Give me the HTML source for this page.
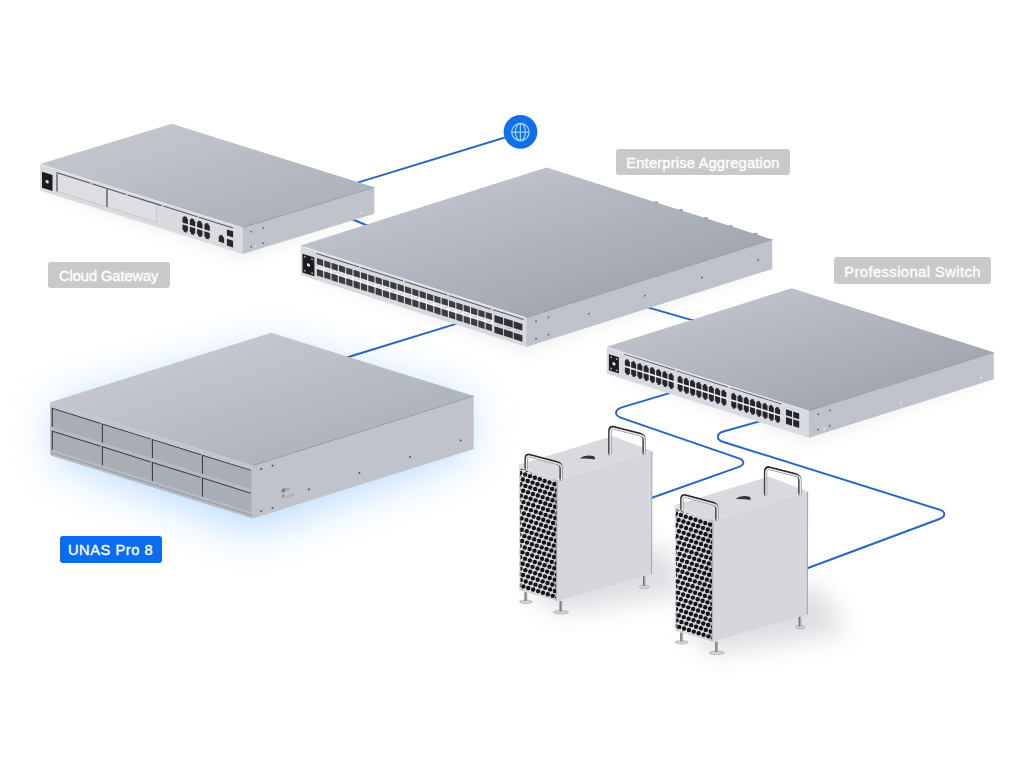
<!DOCTYPE html>
<html><head><meta charset="utf-8"><title>Network</title>
<style>
html,body{margin:0;padding:0;background:#fff;width:1024px;height:768px;overflow:hidden;}
#wrap{position:relative;width:1024px;height:768px;}
svg{position:absolute;left:0;top:0;}
.lbl{position:absolute;box-sizing:border-box;border-radius:3px;color:#fff;font-family:"Liberation Sans",sans-serif;font-size:14.7px;display:flex;align-items:center;justify-content:center;white-space:nowrap;-webkit-text-stroke:0.35px #fff;}
.grey{background:#c9c9cb;padding-top:2px;}
.blue{background:#0b6cf0;}
</style></head><body><div id="wrap">
<svg width="1024" height="768" viewBox="0 0 1024 768"><defs><filter id="blur8" x="-50%" y="-50%" width="200%" height="200%"><feGaussianBlur stdDeviation="8"/></filter><filter id="blur12" x="-50%" y="-50%" width="200%" height="200%"><feGaussianBlur stdDeviation="12"/></filter><filter id="blur4" x="-50%" y="-50%" width="200%" height="200%"><feGaussianBlur stdDeviation="4"/></filter><filter id="blur20" x="-60%" y="-60%" width="220%" height="220%"><feGaussianBlur stdDeviation="22"/></filter><linearGradient id="tg4" gradientUnits="userSpaceOnUse" x1="40.0" y1="164.0" x2="75.0" y2="278.6"><stop offset="0" stop-color="#c2c5cc"/><stop offset="1" stop-color="#aeb2bb"/></linearGradient><linearGradient id="tg5" gradientUnits="userSpaceOnUse" x1="300.6" y1="245.6" x2="342.0" y2="376.0"><stop offset="0" stop-color="#bcc0ca"/><stop offset="1" stop-color="#a3a7b1"/></linearGradient><linearGradient id="tg6" gradientUnits="userSpaceOnUse" x1="50.1" y1="402.3" x2="86.4" y2="517.8"><stop offset="0" stop-color="#c4c6cd"/><stop offset="1" stop-color="#b0b4bd"/></linearGradient><linearGradient id="tg7" gradientUnits="userSpaceOnUse" x1="606.8" y1="346.7" x2="643.6" y2="463.1"><stop offset="0" stop-color="#bdc0c9"/><stop offset="1" stop-color="#a3a7b1"/></linearGradient><clipPath id="gclip"><polygon points="520.20,468.50 556.50,482.50 556.00,599.50 520.50,589.00"/></clipPath><linearGradient id="grilleShade" x1="0" y1="0" x2="1" y2="0"><stop offset="0" stop-color="#000" stop-opacity="0"/><stop offset="0.85" stop-color="#000" stop-opacity="0.05"/><stop offset="1" stop-color="#000" stop-opacity="0.25"/></linearGradient></defs>
<polygon points="55.10,407.30 271.00,347.85 468.65,401.10 468.65,454.10 252.75,532.55 55.10,460.30" fill="#8cc4ff" opacity="0.6" filter="url(#blur20)"/>
<polygon points="44.00,190.50 242.50,260.00 370.30,213.80 171.80,150.30" fill="#9aa0aa" opacity="0.14" filter="url(#blur8)"/>
<polygon points="304.60,275.10 526.25,353.00 768.25,268.90 546.60,197.00" fill="#9aa0aa" opacity="0.14" filter="url(#blur8)"/>
<polygon points="610.80,373.70 808.90,443.80 989.75,379.30 791.65,315.20" fill="#9aa0aa" opacity="0.14" filter="url(#blur8)"/>
<path d="M300,200 L360.9,181.6 L510,136" stroke="#2864c6" stroke-width="1.9" fill="none"/>
<path d="M330,210 L364.8,224.5 L380,229" stroke="#2864c6" stroke-width="1.9" fill="none"/>
<path d="M330,363 L351.6,356 L453.5,324.6 L470,320" stroke="#2864c6" stroke-width="1.9" fill="none"/>
<path d="M640,305 L651.1,308.4 L689.4,319.3 L700,322" stroke="#2864c6" stroke-width="1.9" fill="none"/>
<path d="M680,390 L669.5,393.2 L623.4,406.9 C613.5,409.8 613.5,415.5 623.4,418.6 L738.3,458.2 C745,460.5 745,464.8 738.3,467.1 L640,502" stroke="#2864c6" stroke-width="1.9" fill="none"/>
<path d="M770,418 L758.6,421.7 L723.4,431.5 C716,433.5 716,440 723.4,442 L939.4,509.7 C946,511.8 946,516.8 939.4,519 L800,571" stroke="#2864c6" stroke-width="1.9" fill="none"/>
<circle cx="520.5" cy="131.9" r="16.9" fill="#0f70ea"/>
<g fill="none" stroke="#a8d8ff" stroke-width="1.15"><circle cx="520.4" cy="132" r="8.7"/><ellipse cx="520.4" cy="132" rx="5" ry="8.7"/><line x1="520.4" y1="123.3" x2="520.4" y2="140.7"/><line x1="511.7" y1="132.2" x2="529.1" y2="132.2"/></g>
<polygon points="40.00,164.00 171.80,123.80 374.30,187.30 242.50,227.50" fill="url(#tg4)"/>
<polygon points="40.00,164.00 242.50,227.50 242.50,254.00 40.00,190.50" fill="#dadbe0"/>
<polygon points="242.50,227.50 374.30,187.30 374.30,213.80 242.50,254.00" fill="#c0c3ca"/>
<polyline points="242.50,227.50 374.30,187.30" fill="none" stroke="#8e929b" stroke-width="0.8"/>
<polyline points="40.00,164.60 242.50,228.10" fill="none" stroke="#e4e5e9" stroke-width="0.9"/>
<g transform="matrix(1 0.31358 0 1 40.00 164.00)">
<rect x="2" y="7" width="10.5" height="16" fill="#1b1c20"/><circle cx="7.2" cy="15.5" r="1.7" fill="#d0d0d0"/>
<rect x="17" y="4" width="49.5" height="18" fill="#dedfe3" stroke="#b4b6bc" stroke-width="0.5"/>
<rect x="67.5" y="4" width="49" height="18" fill="#dedfe3" stroke="#b4b6bc" stroke-width="0.5"/>
<line x1="17" y1="4" x2="17" y2="22" stroke="#3d3f45" stroke-width="1"/>
<line x1="67" y1="4" x2="67" y2="22" stroke="#3d3f45" stroke-width="1"/>
<line x1="16.50" y1="3.4" x2="50.70" y2="3.4" stroke="#4d5057" stroke-width="1.05"/>
<line x1="52.10" y1="3.4" x2="86.30" y2="3.4" stroke="#4d5057" stroke-width="1.05"/>
<line x1="87.70" y1="3.4" x2="121.90" y2="3.4" stroke="#4d5057" stroke-width="1.05"/>
<line x1="123.30" y1="3.4" x2="157.50" y2="3.4" stroke="#4d5057" stroke-width="1.05"/>
<line x1="158.90" y1="3.4" x2="193.10" y2="3.4" stroke="#4d5057" stroke-width="1.05"/>
<path d="M142.50,8.50 h1.1 v-1.6 h3.2 v1.6 h1.1 v5.3 h-5.4 z" fill="#26272c"/>
<path d="M142.50,15.70 h5.4 v5.3 h-1.1 v1.6 h-3.2 v-1.6 h-1.1 z" fill="#26272c"/>
<path d="M149.80,8.50 h1.1 v-1.6 h3.2 v1.6 h1.1 v5.3 h-5.4 z" fill="#26272c"/>
<path d="M149.80,15.70 h5.4 v5.3 h-1.1 v1.6 h-3.2 v-1.6 h-1.1 z" fill="#26272c"/>
<path d="M157.10,8.50 h1.1 v-1.6 h3.2 v1.6 h1.1 v5.3 h-5.4 z" fill="#26272c"/>
<path d="M157.10,15.70 h5.4 v5.3 h-1.1 v1.6 h-3.2 v-1.6 h-1.1 z" fill="#26272c"/>
<path d="M164.40,8.50 h1.1 v-1.6 h3.2 v1.6 h1.1 v5.3 h-5.4 z" fill="#26272c"/>
<path d="M164.40,15.70 h5.4 v5.3 h-1.1 v1.6 h-3.2 v-1.6 h-1.1 z" fill="#26272c"/>
<path d="M178.75,15.9 h1.1 v-1.6 h3.2 v1.6 h1.1 v5.6 h-5.4 z" fill="#26272c"/>
<rect x="186.9" y="6.8" width="6.2" height="6.2" fill="#26272c"/><rect x="186.9" y="16.1" width="6.2" height="6.9" fill="#26272c"/>
</g>
<g transform="matrix(1 -0.30501 0 1 242.50 227.50)" fill="#5a5d64"><circle cx="8.75" cy="6.8" r="0.9"/><circle cx="20.5" cy="6.8" r="0.9"/><circle cx="8.75" cy="22" r="0.9"/><circle cx="20.5" cy="22" r="0.9"/><circle cx="13" cy="22.5" r="1" fill="#eef0f4"/><circle cx="118.8" cy="21.4" r="1" fill="#e6e8ec"/></g>
<polygon points="300.60,245.60 546.60,167.50 772.25,239.40 526.25,317.50" fill="url(#tg5)"/>
<polygon points="300.60,245.60 526.25,317.50 526.25,347.00 300.60,275.10" fill="#d8d9de"/>
<polygon points="526.25,317.50 772.25,239.40 772.25,268.90 526.25,347.00" fill="#bfc2ca"/>
<polyline points="526.25,317.50 772.25,239.40" fill="none" stroke="#8e929b" stroke-width="0.8"/>
<polyline points="300.60,246.20 526.25,318.10" fill="none" stroke="#e4e5e9" stroke-width="0.9"/>
<g transform="matrix(1 0.31864 0 1 300.60 245.60)">
<rect x="1.9" y="7.5" width="11.9" height="18.8" fill="#1b1c20"/><circle cx="7.85" cy="16.90" r="1.6" fill="#eeeeee"/><g fill="#9d9ea3"><circle cx="4.10" cy="9.90" r="1"/><circle cx="11.60" cy="9.90" r="1"/><circle cx="4.10" cy="23.90" r="1"/><circle cx="11.60" cy="23.90" r="1"/></g>
<line x1="16.00" y1="2.8" x2="58.50" y2="2.8" stroke="#50535a" stroke-width="1"/>
<line x1="60.04" y1="2.8" x2="102.54" y2="2.8" stroke="#50535a" stroke-width="1"/>
<line x1="104.08" y1="2.8" x2="146.58" y2="2.8" stroke="#50535a" stroke-width="1"/>
<line x1="148.12" y1="2.8" x2="190.62" y2="2.8" stroke="#50535a" stroke-width="1"/>
<line x1="192.16" y1="2.8" x2="223.00" y2="2.8" stroke="#50535a" stroke-width="1"/>
<rect x="16" y="13.4" width="176.5" height="4.8" fill="#f2f2f4"/>
<rect x="16.30" y="7.3" width="6.2" height="6.2" fill="#3b3d43"/>
<rect x="16.30" y="18.1" width="6.2" height="6.6" fill="#3b3d43"/>
<path d="M16.30,13.5 l3.1,2.2 l3.1,-2.2 v1.6 l-3.1,2.2 l-3.1,-2.2 z" fill="#cfd0d5"/>
<rect x="23.64" y="7.3" width="6.2" height="6.2" fill="#3b3d43"/>
<rect x="23.64" y="18.1" width="6.2" height="6.6" fill="#3b3d43"/>
<path d="M23.64,13.5 l3.1,2.2 l3.1,-2.2 v1.6 l-3.1,2.2 l-3.1,-2.2 z" fill="#cfd0d5"/>
<rect x="30.98" y="7.3" width="6.2" height="6.2" fill="#3b3d43"/>
<rect x="30.98" y="18.1" width="6.2" height="6.6" fill="#3b3d43"/>
<path d="M30.98,13.5 l3.1,2.2 l3.1,-2.2 v1.6 l-3.1,2.2 l-3.1,-2.2 z" fill="#cfd0d5"/>
<rect x="38.32" y="7.3" width="6.2" height="6.2" fill="#3b3d43"/>
<rect x="38.32" y="18.1" width="6.2" height="6.6" fill="#3b3d43"/>
<path d="M38.32,13.5 l3.1,2.2 l3.1,-2.2 v1.6 l-3.1,2.2 l-3.1,-2.2 z" fill="#cfd0d5"/>
<rect x="45.66" y="7.3" width="6.2" height="6.2" fill="#3b3d43"/>
<rect x="45.66" y="18.1" width="6.2" height="6.6" fill="#3b3d43"/>
<path d="M45.66,13.5 l3.1,2.2 l3.1,-2.2 v1.6 l-3.1,2.2 l-3.1,-2.2 z" fill="#cfd0d5"/>
<rect x="53.00" y="7.3" width="6.2" height="6.2" fill="#3b3d43"/>
<rect x="53.00" y="18.1" width="6.2" height="6.6" fill="#3b3d43"/>
<path d="M53.00,13.5 l3.1,2.2 l3.1,-2.2 v1.6 l-3.1,2.2 l-3.1,-2.2 z" fill="#cfd0d5"/>
<rect x="60.34" y="7.3" width="6.2" height="6.2" fill="#3b3d43"/>
<rect x="60.34" y="18.1" width="6.2" height="6.6" fill="#3b3d43"/>
<path d="M60.34,13.5 l3.1,2.2 l3.1,-2.2 v1.6 l-3.1,2.2 l-3.1,-2.2 z" fill="#cfd0d5"/>
<rect x="67.68" y="7.3" width="6.2" height="6.2" fill="#3b3d43"/>
<rect x="67.68" y="18.1" width="6.2" height="6.6" fill="#3b3d43"/>
<path d="M67.68,13.5 l3.1,2.2 l3.1,-2.2 v1.6 l-3.1,2.2 l-3.1,-2.2 z" fill="#cfd0d5"/>
<rect x="75.02" y="7.3" width="6.2" height="6.2" fill="#3b3d43"/>
<rect x="75.02" y="18.1" width="6.2" height="6.6" fill="#3b3d43"/>
<path d="M75.02,13.5 l3.1,2.2 l3.1,-2.2 v1.6 l-3.1,2.2 l-3.1,-2.2 z" fill="#cfd0d5"/>
<rect x="82.36" y="7.3" width="6.2" height="6.2" fill="#3b3d43"/>
<rect x="82.36" y="18.1" width="6.2" height="6.6" fill="#3b3d43"/>
<path d="M82.36,13.5 l3.1,2.2 l3.1,-2.2 v1.6 l-3.1,2.2 l-3.1,-2.2 z" fill="#cfd0d5"/>
<rect x="89.70" y="7.3" width="6.2" height="6.2" fill="#3b3d43"/>
<rect x="89.70" y="18.1" width="6.2" height="6.6" fill="#3b3d43"/>
<path d="M89.70,13.5 l3.1,2.2 l3.1,-2.2 v1.6 l-3.1,2.2 l-3.1,-2.2 z" fill="#cfd0d5"/>
<rect x="97.04" y="7.3" width="6.2" height="6.2" fill="#3b3d43"/>
<rect x="97.04" y="18.1" width="6.2" height="6.6" fill="#3b3d43"/>
<path d="M97.04,13.5 l3.1,2.2 l3.1,-2.2 v1.6 l-3.1,2.2 l-3.1,-2.2 z" fill="#cfd0d5"/>
<rect x="104.38" y="7.3" width="6.2" height="6.2" fill="#3b3d43"/>
<rect x="104.38" y="18.1" width="6.2" height="6.6" fill="#3b3d43"/>
<path d="M104.38,13.5 l3.1,2.2 l3.1,-2.2 v1.6 l-3.1,2.2 l-3.1,-2.2 z" fill="#cfd0d5"/>
<rect x="111.72" y="7.3" width="6.2" height="6.2" fill="#3b3d43"/>
<rect x="111.72" y="18.1" width="6.2" height="6.6" fill="#3b3d43"/>
<path d="M111.72,13.5 l3.1,2.2 l3.1,-2.2 v1.6 l-3.1,2.2 l-3.1,-2.2 z" fill="#cfd0d5"/>
<rect x="119.06" y="7.3" width="6.2" height="6.2" fill="#3b3d43"/>
<rect x="119.06" y="18.1" width="6.2" height="6.6" fill="#3b3d43"/>
<path d="M119.06,13.5 l3.1,2.2 l3.1,-2.2 v1.6 l-3.1,2.2 l-3.1,-2.2 z" fill="#cfd0d5"/>
<rect x="126.40" y="7.3" width="6.2" height="6.2" fill="#3b3d43"/>
<rect x="126.40" y="18.1" width="6.2" height="6.6" fill="#3b3d43"/>
<path d="M126.40,13.5 l3.1,2.2 l3.1,-2.2 v1.6 l-3.1,2.2 l-3.1,-2.2 z" fill="#cfd0d5"/>
<rect x="133.74" y="7.3" width="6.2" height="6.2" fill="#3b3d43"/>
<rect x="133.74" y="18.1" width="6.2" height="6.6" fill="#3b3d43"/>
<path d="M133.74,13.5 l3.1,2.2 l3.1,-2.2 v1.6 l-3.1,2.2 l-3.1,-2.2 z" fill="#cfd0d5"/>
<rect x="141.08" y="7.3" width="6.2" height="6.2" fill="#3b3d43"/>
<rect x="141.08" y="18.1" width="6.2" height="6.6" fill="#3b3d43"/>
<path d="M141.08,13.5 l3.1,2.2 l3.1,-2.2 v1.6 l-3.1,2.2 l-3.1,-2.2 z" fill="#cfd0d5"/>
<rect x="148.42" y="7.3" width="6.2" height="6.2" fill="#3b3d43"/>
<rect x="148.42" y="18.1" width="6.2" height="6.6" fill="#3b3d43"/>
<path d="M148.42,13.5 l3.1,2.2 l3.1,-2.2 v1.6 l-3.1,2.2 l-3.1,-2.2 z" fill="#cfd0d5"/>
<rect x="155.76" y="7.3" width="6.2" height="6.2" fill="#3b3d43"/>
<rect x="155.76" y="18.1" width="6.2" height="6.6" fill="#3b3d43"/>
<path d="M155.76,13.5 l3.1,2.2 l3.1,-2.2 v1.6 l-3.1,2.2 l-3.1,-2.2 z" fill="#cfd0d5"/>
<rect x="163.10" y="7.3" width="6.2" height="6.2" fill="#3b3d43"/>
<rect x="163.10" y="18.1" width="6.2" height="6.6" fill="#3b3d43"/>
<path d="M163.10,13.5 l3.1,2.2 l3.1,-2.2 v1.6 l-3.1,2.2 l-3.1,-2.2 z" fill="#cfd0d5"/>
<rect x="170.44" y="7.3" width="6.2" height="6.2" fill="#3b3d43"/>
<rect x="170.44" y="18.1" width="6.2" height="6.6" fill="#3b3d43"/>
<path d="M170.44,13.5 l3.1,2.2 l3.1,-2.2 v1.6 l-3.1,2.2 l-3.1,-2.2 z" fill="#cfd0d5"/>
<rect x="177.78" y="7.3" width="6.2" height="6.2" fill="#3b3d43"/>
<rect x="177.78" y="18.1" width="6.2" height="6.6" fill="#3b3d43"/>
<path d="M177.78,13.5 l3.1,2.2 l3.1,-2.2 v1.6 l-3.1,2.2 l-3.1,-2.2 z" fill="#cfd0d5"/>
<rect x="185.12" y="7.3" width="6.2" height="6.2" fill="#3b3d43"/>
<rect x="185.12" y="18.1" width="6.2" height="6.6" fill="#3b3d43"/>
<path d="M185.12,13.5 l3.1,2.2 l3.1,-2.2 v1.6 l-3.1,2.2 l-3.1,-2.2 z" fill="#cfd0d5"/>
<rect x="193.80" y="7.65" width="8.7" height="6.9" fill="#303237"/>
<rect x="193.80" y="18.9" width="8.7" height="6.5" fill="#303237"/>
<rect x="196.30" y="16" width="1" height="1" fill="#8a8c92"/><rect x="198.80" y="16" width="1" height="1" fill="#8a8c92"/>
<rect x="203.45" y="7.65" width="8.7" height="6.9" fill="#303237"/>
<rect x="203.45" y="18.9" width="8.7" height="6.5" fill="#303237"/>
<rect x="205.95" y="16" width="1" height="1" fill="#8a8c92"/><rect x="208.45" y="16" width="1" height="1" fill="#8a8c92"/>
<rect x="213.10" y="7.65" width="8.7" height="6.9" fill="#303237"/>
<rect x="213.10" y="18.9" width="8.7" height="6.5" fill="#303237"/>
<rect x="215.60" y="16" width="1" height="1" fill="#8a8c92"/><rect x="218.10" y="16" width="1" height="1" fill="#8a8c92"/>
</g>
<g transform="matrix(1 -0.31748 0 1 526.25 317.50)" fill="#5a5d64"><circle cx="9.75" cy="6.85" r="0.9"/><circle cx="22.25" cy="6.8" r="0.9"/><circle cx="9.75" cy="24.35" r="0.9"/><circle cx="22.25" cy="24.3" r="0.9"/><circle cx="62.75" cy="16.2" r="0.9"/><circle cx="118.65" cy="15.8" r="0.9"/><circle cx="175.6" cy="15.75" r="0.9"/><circle cx="231.85" cy="16.1" r="0.9"/></g>
<ellipse cx="656.4" cy="202.3" rx="2.1" ry="1.1" fill="#9a9ea6"/><ellipse cx="681.2" cy="210.2" rx="2.1" ry="1.1" fill="#9a9ea6"/><ellipse cx="706.0" cy="218.1" rx="2.1" ry="1.1" fill="#9a9ea6"/><ellipse cx="730.8" cy="226.0" rx="2.1" ry="1.1" fill="#9a9ea6"/><ellipse cx="755.6" cy="233.9" rx="2.1" ry="1.1" fill="#9a9ea6"/>
<polygon points="50.10,402.30 271.00,332.85 473.65,396.10 252.75,465.55" fill="url(#tg6)"/>
<polygon points="50.10,402.30 252.75,465.55 252.75,518.55 50.10,455.30" fill="#b7bac2"/>
<polygon points="252.75,465.55 473.65,396.10 473.65,449.10 252.75,518.55" fill="#c0c3cb"/>
<polyline points="252.75,465.55 473.65,396.10" fill="none" stroke="#8e929b" stroke-width="0.8"/>
<polyline points="50.10,402.90 252.75,466.15" fill="none" stroke="#e4e5e9" stroke-width="0.9"/>
<g transform="matrix(1 0.31211 0 1 50.10 402.30)">
<rect x="1.20" y="5.3" width="49.5" height="18.6" fill="#a9adb6"/>
<path d="M2.20,23.900000000000002 L2.20,5.3 L50.70,5.3" stroke="#383b42" stroke-width="1.1" fill="none"/>
<rect x="1.20" y="28.2" width="49.5" height="18.6" fill="#a9adb6"/>
<path d="M2.20,46.8 L2.20,28.2 L50.70,28.2" stroke="#383b42" stroke-width="1.1" fill="none"/>
<rect x="51.25" y="5.3" width="49.5" height="18.6" fill="#a9adb6"/>
<path d="M52.25,23.900000000000002 L52.25,5.3 L100.75,5.3" stroke="#383b42" stroke-width="1.1" fill="none"/>
<rect x="51.25" y="28.2" width="49.5" height="18.6" fill="#a9adb6"/>
<path d="M52.25,46.8 L52.25,28.2 L100.75,28.2" stroke="#383b42" stroke-width="1.1" fill="none"/>
<rect x="101.30" y="5.3" width="49.5" height="18.6" fill="#a9adb6"/>
<path d="M102.30,23.900000000000002 L102.30,5.3 L150.80,5.3" stroke="#383b42" stroke-width="1.1" fill="none"/>
<rect x="101.30" y="28.2" width="49.5" height="18.6" fill="#a9adb6"/>
<path d="M102.30,46.8 L102.30,28.2 L150.80,28.2" stroke="#383b42" stroke-width="1.1" fill="none"/>
<rect x="151.35" y="5.3" width="49.5" height="18.6" fill="#a9adb6"/>
<path d="M152.35,23.900000000000002 L152.35,5.3 L200.85,5.3" stroke="#383b42" stroke-width="1.1" fill="none"/>
<rect x="151.35" y="28.2" width="49.5" height="18.6" fill="#a9adb6"/>
<path d="M152.35,46.8 L152.35,28.2 L200.85,28.2" stroke="#383b42" stroke-width="1.1" fill="none"/>
<rect x="0" y="0" width="202.65" height="4.6" fill="#c3c6cd"/>
<line x1="1" y1="50" x2="202" y2="50" stroke="#8a8d94" stroke-width="0.7"/>
</g>
<g transform="matrix(1 -0.31440 0 1 252.75 465.55)" fill="#4f525a"><circle cx="8.45" cy="6.2" r="1"/><circle cx="19.75" cy="6.35" r="1"/><circle cx="8.45" cy="48.4" r="1"/><circle cx="19.75" cy="48.55" r="1"/><circle cx="56.1" cy="41.4" r="1"/><circle cx="106.65" cy="41.1" r="1"/><circle cx="157.45" cy="40.65" r="1"/><circle cx="207.95" cy="40.3" r="1"/><rect x="29" y="32.5" width="3.5" height="4" fill="#7d8088"/><rect x="33" y="33" width="4" height="3" fill="#a4a7ae"/><rect x="29" y="38.5" width="2.5" height="3" fill="#8d9097"/><rect x="32" y="40.5" width="9" height="2.5" fill="#b0b3ba"/></g>
<polygon points="606.80,346.70 791.65,288.20 993.75,352.30 808.90,410.80" fill="url(#tg7)"/>
<polygon points="606.80,346.70 808.90,410.80 808.90,437.80 606.80,373.70" fill="#d9dadf"/>
<polygon points="808.90,410.80 993.75,352.30 993.75,379.30 808.90,437.80" fill="#bfc2ca"/>
<polyline points="808.90,410.80 993.75,352.30" fill="none" stroke="#8e929b" stroke-width="0.8"/>
<polyline points="606.80,347.30 808.90,411.40" fill="none" stroke="#e4e5e9" stroke-width="0.9"/>
<g transform="matrix(1 0.31717 0 1 606.80 346.70)">
<rect x="2.1" y="6.8" width="10" height="16.2" fill="#1b1c20"/><circle cx="7.10" cy="14.90" r="1.6" fill="#eeeeee"/><g fill="#9d9ea3"><circle cx="4.30" cy="9.20" r="1"/><circle cx="9.90" cy="9.20" r="1"/><circle cx="4.30" cy="20.60" r="1"/><circle cx="9.90" cy="20.60" r="1"/></g>
<line x1="17.10" y1="2" x2="68.10" y2="2" stroke="#55585f" stroke-width="0.9"/>
<rect x="17.60" y="13" width="50.5" height="1.8" fill="#f3f3f5"/>
<path d="M18.10,7.70 h1.2 v-1.5 h2.6 v1.5 h1.2 v5.3 h-5 z" fill="#25262b"/>
<path d="M18.10,14.8 h5 v5.4 h-1.2 v1.5 h-2.6 v-1.5 h-1.2 z" fill="#25262b"/>
<path d="M24.35,7.70 h1.2 v-1.5 h2.6 v1.5 h1.2 v5.3 h-5 z" fill="#25262b"/>
<path d="M24.35,14.8 h5 v5.4 h-1.2 v1.5 h-2.6 v-1.5 h-1.2 z" fill="#25262b"/>
<path d="M30.60,7.70 h1.2 v-1.5 h2.6 v1.5 h1.2 v5.3 h-5 z" fill="#25262b"/>
<path d="M30.60,14.8 h5 v5.4 h-1.2 v1.5 h-2.6 v-1.5 h-1.2 z" fill="#25262b"/>
<path d="M36.85,7.70 h1.2 v-1.5 h2.6 v1.5 h1.2 v5.3 h-5 z" fill="#25262b"/>
<path d="M36.85,14.8 h5 v5.4 h-1.2 v1.5 h-2.6 v-1.5 h-1.2 z" fill="#25262b"/>
<path d="M43.10,7.70 h1.2 v-1.5 h2.6 v1.5 h1.2 v5.3 h-5 z" fill="#25262b"/>
<path d="M43.10,14.8 h5 v5.4 h-1.2 v1.5 h-2.6 v-1.5 h-1.2 z" fill="#25262b"/>
<path d="M49.35,7.70 h1.2 v-1.5 h2.6 v1.5 h1.2 v5.3 h-5 z" fill="#25262b"/>
<path d="M49.35,14.8 h5 v5.4 h-1.2 v1.5 h-2.6 v-1.5 h-1.2 z" fill="#25262b"/>
<path d="M55.60,7.70 h1.2 v-1.5 h2.6 v1.5 h1.2 v5.3 h-5 z" fill="#25262b"/>
<path d="M55.60,14.8 h5 v5.4 h-1.2 v1.5 h-2.6 v-1.5 h-1.2 z" fill="#25262b"/>
<path d="M61.85,7.70 h1.2 v-1.5 h2.6 v1.5 h1.2 v5.3 h-5 z" fill="#25262b"/>
<path d="M61.85,14.8 h5 v5.4 h-1.2 v1.5 h-2.6 v-1.5 h-1.2 z" fill="#25262b"/>
<line x1="69.80" y1="2" x2="120.80" y2="2" stroke="#55585f" stroke-width="0.9"/>
<rect x="70.30" y="13" width="50.5" height="1.8" fill="#f3f3f5"/>
<path d="M70.80,7.70 h1.2 v-1.5 h2.6 v1.5 h1.2 v5.3 h-5 z" fill="#25262b"/>
<path d="M70.80,14.8 h5 v5.4 h-1.2 v1.5 h-2.6 v-1.5 h-1.2 z" fill="#25262b"/>
<path d="M77.05,7.70 h1.2 v-1.5 h2.6 v1.5 h1.2 v5.3 h-5 z" fill="#25262b"/>
<path d="M77.05,14.8 h5 v5.4 h-1.2 v1.5 h-2.6 v-1.5 h-1.2 z" fill="#25262b"/>
<path d="M83.30,7.70 h1.2 v-1.5 h2.6 v1.5 h1.2 v5.3 h-5 z" fill="#25262b"/>
<path d="M83.30,14.8 h5 v5.4 h-1.2 v1.5 h-2.6 v-1.5 h-1.2 z" fill="#25262b"/>
<path d="M89.55,7.70 h1.2 v-1.5 h2.6 v1.5 h1.2 v5.3 h-5 z" fill="#25262b"/>
<path d="M89.55,14.8 h5 v5.4 h-1.2 v1.5 h-2.6 v-1.5 h-1.2 z" fill="#25262b"/>
<path d="M95.80,7.70 h1.2 v-1.5 h2.6 v1.5 h1.2 v5.3 h-5 z" fill="#25262b"/>
<path d="M95.80,14.8 h5 v5.4 h-1.2 v1.5 h-2.6 v-1.5 h-1.2 z" fill="#25262b"/>
<path d="M102.05,7.70 h1.2 v-1.5 h2.6 v1.5 h1.2 v5.3 h-5 z" fill="#25262b"/>
<path d="M102.05,14.8 h5 v5.4 h-1.2 v1.5 h-2.6 v-1.5 h-1.2 z" fill="#25262b"/>
<path d="M108.30,7.70 h1.2 v-1.5 h2.6 v1.5 h1.2 v5.3 h-5 z" fill="#25262b"/>
<path d="M108.30,14.8 h5 v5.4 h-1.2 v1.5 h-2.6 v-1.5 h-1.2 z" fill="#25262b"/>
<path d="M114.55,7.70 h1.2 v-1.5 h2.6 v1.5 h1.2 v5.3 h-5 z" fill="#25262b"/>
<path d="M114.55,14.8 h5 v5.4 h-1.2 v1.5 h-2.6 v-1.5 h-1.2 z" fill="#25262b"/>
<line x1="123.50" y1="2" x2="174.50" y2="2" stroke="#55585f" stroke-width="0.9"/>
<rect x="124.00" y="13" width="50.5" height="1.8" fill="#f3f3f5"/>
<path d="M124.50,7.70 h1.2 v-1.5 h2.6 v1.5 h1.2 v5.3 h-5 z" fill="#25262b"/>
<path d="M124.50,14.8 h5 v5.4 h-1.2 v1.5 h-2.6 v-1.5 h-1.2 z" fill="#25262b"/>
<path d="M130.75,7.70 h1.2 v-1.5 h2.6 v1.5 h1.2 v5.3 h-5 z" fill="#25262b"/>
<path d="M130.75,14.8 h5 v5.4 h-1.2 v1.5 h-2.6 v-1.5 h-1.2 z" fill="#25262b"/>
<path d="M137.00,7.70 h1.2 v-1.5 h2.6 v1.5 h1.2 v5.3 h-5 z" fill="#25262b"/>
<path d="M137.00,14.8 h5 v5.4 h-1.2 v1.5 h-2.6 v-1.5 h-1.2 z" fill="#25262b"/>
<path d="M143.25,7.70 h1.2 v-1.5 h2.6 v1.5 h1.2 v5.3 h-5 z" fill="#25262b"/>
<path d="M143.25,14.8 h5 v5.4 h-1.2 v1.5 h-2.6 v-1.5 h-1.2 z" fill="#25262b"/>
<path d="M149.50,7.70 h1.2 v-1.5 h2.6 v1.5 h1.2 v5.3 h-5 z" fill="#25262b"/>
<path d="M149.50,14.8 h5 v5.4 h-1.2 v1.5 h-2.6 v-1.5 h-1.2 z" fill="#25262b"/>
<path d="M155.75,7.70 h1.2 v-1.5 h2.6 v1.5 h1.2 v5.3 h-5 z" fill="#25262b"/>
<path d="M155.75,14.8 h5 v5.4 h-1.2 v1.5 h-2.6 v-1.5 h-1.2 z" fill="#25262b"/>
<path d="M162.00,7.70 h1.2 v-1.5 h2.6 v1.5 h1.2 v5.3 h-5 z" fill="#25262b"/>
<path d="M162.00,14.8 h5 v5.4 h-1.2 v1.5 h-2.6 v-1.5 h-1.2 z" fill="#25262b"/>
<path d="M168.25,7.70 h1.2 v-1.5 h2.6 v1.5 h1.2 v5.3 h-5 z" fill="#25262b"/>
<path d="M168.25,14.8 h5 v5.4 h-1.2 v1.5 h-2.6 v-1.5 h-1.2 z" fill="#25262b"/>
<rect x="179.20" y="5.8" width="6" height="5.8" fill="#25262b"/>
<rect x="179.20" y="13.5" width="6" height="6.8" fill="#25262b"/>
<rect x="186.40" y="5.8" width="6" height="5.8" fill="#25262b"/>
<rect x="186.40" y="13.5" width="6" height="6.8" fill="#25262b"/>
</g>
<g transform="matrix(1 -0.31647 0 1 808.90 410.80)" fill="#5a5d64"><circle cx="9.2" cy="6.3" r="0.9"/><circle cx="20.85" cy="6.2" r="0.9"/><circle cx="9.2" cy="21.7" r="0.9"/><circle cx="20.85" cy="21.6" r="0.9"/><circle cx="15.4" cy="22.8" r="1" fill="#eef0f4"/><circle cx="92" cy="20.9" r="1" fill="#e6e8ec"/><circle cx="172.2" cy="21.6" r="1" fill="#e6e8ec"/></g>
<g><polygon points="527.40,592.60 562.00,613.00 691.60,592.00 661.60,544.00 577.00,571.00" fill="#a4a8b0" opacity="0.38" filter="url(#blur12)"/>
<ellipse cx="526" cy="601.8" rx="6.5" ry="1.7" fill="#d2d4d8" stroke="#8d9096" stroke-width="0.5"/>
<rect x="524.7" y="591" width="2.6" height="10" fill="#a7a9ae"/>
<rect x="524.7" y="591" width="0.8" height="10" fill="#55575c"/>
<ellipse cx="561" cy="612.3" rx="7.5" ry="1.7" fill="#d2d4d8" stroke="#8d9096" stroke-width="0.5"/>
<rect x="559.7" y="601" width="2.6" height="10.5" fill="#a7a9ae"/>
<rect x="559.7" y="601" width="0.8" height="10.5" fill="#55575c"/>
<ellipse cx="644.3" cy="586.8" rx="5" ry="1.7" fill="#d2d4d8" stroke="#8d9096" stroke-width="0.5"/>
<rect x="643.0" y="576" width="2.6" height="10" fill="#a7a9ae"/>
<rect x="643.0" y="576" width="0.8" height="10" fill="#55575c"/>
<polygon points="557.90,479.90 651.90,451.10 651.60,574.00 557.00,601.00" fill="#d5d6db"/>
<line x1="651.9" y1="451.1" x2="651.6" y2="574" stroke="#a2a4a9" stroke-width="1"/>
<polygon points="518.85,464.80 612.85,436.00 651.90,451.10 557.90,479.90" fill="#d9dade"/>
<path d="M579.5,458.5 Q586,453.5 594.5,456.5 L595,459.5 Q587,458 579.5,458.5 z" fill="#34353a"/>
<polygon points="518.85,464.80 557.90,479.90 557.00,601.00 519.40,590.60" fill="#dfe0e3"/>
<path d="M521.8,473.5 h-1.6 v3 h1.6" stroke="#55575c" stroke-width="0.7" fill="none"/><path d="M521.8,484.0 h-1.6 v3 h1.6" stroke="#55575c" stroke-width="0.7" fill="none"/><path d="M521.8,495.2 h-1.6 v3 h1.6" stroke="#55575c" stroke-width="0.7" fill="none"/><path d="M521.8,506.3 h-1.6 v3 h1.6" stroke="#55575c" stroke-width="0.7" fill="none"/><path d="M521.8,517.3 h-1.6 v3 h1.6" stroke="#55575c" stroke-width="0.7" fill="none"/><path d="M521.8,528.4 h-1.6 v3 h1.6" stroke="#55575c" stroke-width="0.7" fill="none"/><path d="M521.8,539.5 h-1.6 v3 h1.6" stroke="#55575c" stroke-width="0.7" fill="none"/><path d="M521.8,550.6 h-1.6 v3 h1.6" stroke="#55575c" stroke-width="0.7" fill="none"/><path d="M521.8,561.7 h-1.6 v3 h1.6" stroke="#55575c" stroke-width="0.7" fill="none"/><path d="M521.8,572.8 h-1.6 v3 h1.6" stroke="#55575c" stroke-width="0.7" fill="none"/><path d="M521.8,583.9 h-1.6 v3 h1.6" stroke="#55575c" stroke-width="0.7" fill="none"/>
<g clip-path="url(#gclip)" fill="#131417"><circle cx="524.78" cy="463.22" r="2.2"/><circle cx="522.50" cy="468.10" r="2.2"/><circle cx="520.22" cy="472.98" r="2.2"/><circle cx="529.66" cy="464.80" r="2.2"/><circle cx="527.38" cy="469.68" r="2.2"/><circle cx="525.10" cy="474.56" r="2.2"/><circle cx="522.82" cy="479.44" r="2.2"/><circle cx="520.54" cy="484.32" r="2.2"/><circle cx="518.26" cy="489.20" r="2.2"/><circle cx="534.54" cy="466.38" r="2.2"/><circle cx="532.26" cy="471.26" r="2.2"/><circle cx="529.98" cy="476.14" r="2.2"/><circle cx="527.70" cy="481.02" r="2.2"/><circle cx="525.42" cy="485.90" r="2.2"/><circle cx="523.14" cy="490.78" r="2.2"/><circle cx="520.86" cy="495.66" r="2.2"/><circle cx="518.58" cy="500.54" r="2.2"/><circle cx="539.42" cy="467.96" r="2.2"/><circle cx="537.14" cy="472.84" r="2.2"/><circle cx="534.86" cy="477.72" r="2.2"/><circle cx="532.58" cy="482.60" r="2.2"/><circle cx="530.30" cy="487.48" r="2.2"/><circle cx="528.02" cy="492.36" r="2.2"/><circle cx="525.74" cy="497.24" r="2.2"/><circle cx="523.46" cy="502.12" r="2.2"/><circle cx="521.18" cy="507.00" r="2.2"/><circle cx="518.90" cy="511.88" r="2.2"/><circle cx="544.30" cy="469.54" r="2.2"/><circle cx="542.02" cy="474.42" r="2.2"/><circle cx="539.74" cy="479.30" r="2.2"/><circle cx="537.46" cy="484.18" r="2.2"/><circle cx="535.18" cy="489.06" r="2.2"/><circle cx="532.90" cy="493.94" r="2.2"/><circle cx="530.62" cy="498.82" r="2.2"/><circle cx="528.34" cy="503.70" r="2.2"/><circle cx="526.06" cy="508.58" r="2.2"/><circle cx="523.78" cy="513.46" r="2.2"/><circle cx="521.50" cy="518.34" r="2.2"/><circle cx="519.22" cy="523.22" r="2.2"/><circle cx="549.18" cy="471.12" r="2.2"/><circle cx="546.90" cy="476.00" r="2.2"/><circle cx="544.62" cy="480.88" r="2.2"/><circle cx="542.34" cy="485.76" r="2.2"/><circle cx="540.06" cy="490.64" r="2.2"/><circle cx="537.78" cy="495.52" r="2.2"/><circle cx="535.50" cy="500.40" r="2.2"/><circle cx="533.22" cy="505.28" r="2.2"/><circle cx="530.94" cy="510.16" r="2.2"/><circle cx="528.66" cy="515.04" r="2.2"/><circle cx="526.38" cy="519.92" r="2.2"/><circle cx="524.10" cy="524.80" r="2.2"/><circle cx="521.82" cy="529.68" r="2.2"/><circle cx="519.54" cy="534.56" r="2.2"/><circle cx="554.06" cy="472.70" r="2.2"/><circle cx="551.78" cy="477.58" r="2.2"/><circle cx="549.50" cy="482.46" r="2.2"/><circle cx="547.22" cy="487.34" r="2.2"/><circle cx="544.94" cy="492.22" r="2.2"/><circle cx="542.66" cy="497.10" r="2.2"/><circle cx="540.38" cy="501.98" r="2.2"/><circle cx="538.10" cy="506.86" r="2.2"/><circle cx="535.82" cy="511.74" r="2.2"/><circle cx="533.54" cy="516.62" r="2.2"/><circle cx="531.26" cy="521.50" r="2.2"/><circle cx="528.98" cy="526.38" r="2.2"/><circle cx="526.70" cy="531.26" r="2.2"/><circle cx="524.42" cy="536.14" r="2.2"/><circle cx="522.14" cy="541.02" r="2.2"/><circle cx="519.86" cy="545.90" r="2.2"/><circle cx="558.94" cy="474.28" r="2.2"/><circle cx="556.66" cy="479.16" r="2.2"/><circle cx="554.38" cy="484.04" r="2.2"/><circle cx="552.10" cy="488.92" r="2.2"/><circle cx="549.82" cy="493.80" r="2.2"/><circle cx="547.54" cy="498.68" r="2.2"/><circle cx="545.26" cy="503.56" r="2.2"/><circle cx="542.98" cy="508.44" r="2.2"/><circle cx="540.70" cy="513.32" r="2.2"/><circle cx="538.42" cy="518.20" r="2.2"/><circle cx="536.14" cy="523.08" r="2.2"/><circle cx="533.86" cy="527.96" r="2.2"/><circle cx="531.58" cy="532.84" r="2.2"/><circle cx="529.30" cy="537.72" r="2.2"/><circle cx="527.02" cy="542.60" r="2.2"/><circle cx="524.74" cy="547.48" r="2.2"/><circle cx="522.46" cy="552.36" r="2.2"/><circle cx="520.18" cy="557.24" r="2.2"/><circle cx="556.98" cy="490.50" r="2.2"/><circle cx="554.70" cy="495.38" r="2.2"/><circle cx="552.42" cy="500.26" r="2.2"/><circle cx="550.14" cy="505.14" r="2.2"/><circle cx="547.86" cy="510.02" r="2.2"/><circle cx="545.58" cy="514.90" r="2.2"/><circle cx="543.30" cy="519.78" r="2.2"/><circle cx="541.02" cy="524.66" r="2.2"/><circle cx="538.74" cy="529.54" r="2.2"/><circle cx="536.46" cy="534.42" r="2.2"/><circle cx="534.18" cy="539.30" r="2.2"/><circle cx="531.90" cy="544.18" r="2.2"/><circle cx="529.62" cy="549.06" r="2.2"/><circle cx="527.34" cy="553.94" r="2.2"/><circle cx="525.06" cy="558.82" r="2.2"/><circle cx="522.78" cy="563.70" r="2.2"/><circle cx="520.50" cy="568.58" r="2.2"/><circle cx="518.22" cy="573.46" r="2.2"/><circle cx="557.30" cy="501.84" r="2.2"/><circle cx="555.02" cy="506.72" r="2.2"/><circle cx="552.74" cy="511.60" r="2.2"/><circle cx="550.46" cy="516.48" r="2.2"/><circle cx="548.18" cy="521.36" r="2.2"/><circle cx="545.90" cy="526.24" r="2.2"/><circle cx="543.62" cy="531.12" r="2.2"/><circle cx="541.34" cy="536.00" r="2.2"/><circle cx="539.06" cy="540.88" r="2.2"/><circle cx="536.78" cy="545.76" r="2.2"/><circle cx="534.50" cy="550.64" r="2.2"/><circle cx="532.22" cy="555.52" r="2.2"/><circle cx="529.94" cy="560.40" r="2.2"/><circle cx="527.66" cy="565.28" r="2.2"/><circle cx="525.38" cy="570.16" r="2.2"/><circle cx="523.10" cy="575.04" r="2.2"/><circle cx="520.82" cy="579.92" r="2.2"/><circle cx="518.54" cy="584.80" r="2.2"/><circle cx="557.62" cy="513.18" r="2.2"/><circle cx="555.34" cy="518.06" r="2.2"/><circle cx="553.06" cy="522.94" r="2.2"/><circle cx="550.78" cy="527.82" r="2.2"/><circle cx="548.50" cy="532.70" r="2.2"/><circle cx="546.22" cy="537.58" r="2.2"/><circle cx="543.94" cy="542.46" r="2.2"/><circle cx="541.66" cy="547.34" r="2.2"/><circle cx="539.38" cy="552.22" r="2.2"/><circle cx="537.10" cy="557.10" r="2.2"/><circle cx="534.82" cy="561.98" r="2.2"/><circle cx="532.54" cy="566.86" r="2.2"/><circle cx="530.26" cy="571.74" r="2.2"/><circle cx="527.98" cy="576.62" r="2.2"/><circle cx="525.70" cy="581.50" r="2.2"/><circle cx="523.42" cy="586.38" r="2.2"/><circle cx="521.14" cy="591.26" r="2.2"/><circle cx="518.86" cy="596.14" r="2.2"/><circle cx="557.94" cy="524.52" r="2.2"/><circle cx="555.66" cy="529.40" r="2.2"/><circle cx="553.38" cy="534.28" r="2.2"/><circle cx="551.10" cy="539.16" r="2.2"/><circle cx="548.82" cy="544.04" r="2.2"/><circle cx="546.54" cy="548.92" r="2.2"/><circle cx="544.26" cy="553.80" r="2.2"/><circle cx="541.98" cy="558.68" r="2.2"/><circle cx="539.70" cy="563.56" r="2.2"/><circle cx="537.42" cy="568.44" r="2.2"/><circle cx="535.14" cy="573.32" r="2.2"/><circle cx="532.86" cy="578.20" r="2.2"/><circle cx="530.58" cy="583.08" r="2.2"/><circle cx="528.30" cy="587.96" r="2.2"/><circle cx="526.02" cy="592.84" r="2.2"/><circle cx="523.74" cy="597.72" r="2.2"/><circle cx="521.46" cy="602.60" r="2.2"/><circle cx="558.26" cy="535.86" r="2.2"/><circle cx="555.98" cy="540.74" r="2.2"/><circle cx="553.70" cy="545.62" r="2.2"/><circle cx="551.42" cy="550.50" r="2.2"/><circle cx="549.14" cy="555.38" r="2.2"/><circle cx="546.86" cy="560.26" r="2.2"/><circle cx="544.58" cy="565.14" r="2.2"/><circle cx="542.30" cy="570.02" r="2.2"/><circle cx="540.02" cy="574.90" r="2.2"/><circle cx="537.74" cy="579.78" r="2.2"/><circle cx="535.46" cy="584.66" r="2.2"/><circle cx="533.18" cy="589.54" r="2.2"/><circle cx="530.90" cy="594.42" r="2.2"/><circle cx="528.62" cy="599.30" r="2.2"/><circle cx="526.34" cy="604.18" r="2.2"/><circle cx="558.58" cy="547.20" r="2.2"/><circle cx="556.30" cy="552.08" r="2.2"/><circle cx="554.02" cy="556.96" r="2.2"/><circle cx="551.74" cy="561.84" r="2.2"/><circle cx="549.46" cy="566.72" r="2.2"/><circle cx="547.18" cy="571.60" r="2.2"/><circle cx="544.90" cy="576.48" r="2.2"/><circle cx="542.62" cy="581.36" r="2.2"/><circle cx="540.34" cy="586.24" r="2.2"/><circle cx="538.06" cy="591.12" r="2.2"/><circle cx="535.78" cy="596.00" r="2.2"/><circle cx="533.50" cy="600.88" r="2.2"/><circle cx="558.90" cy="558.54" r="2.2"/><circle cx="556.62" cy="563.42" r="2.2"/><circle cx="554.34" cy="568.30" r="2.2"/><circle cx="552.06" cy="573.18" r="2.2"/><circle cx="549.78" cy="578.06" r="2.2"/><circle cx="547.50" cy="582.94" r="2.2"/><circle cx="545.22" cy="587.82" r="2.2"/><circle cx="542.94" cy="592.70" r="2.2"/><circle cx="540.66" cy="597.58" r="2.2"/><circle cx="538.38" cy="602.46" r="2.2"/><circle cx="556.94" cy="574.76" r="2.2"/><circle cx="554.66" cy="579.64" r="2.2"/><circle cx="552.38" cy="584.52" r="2.2"/><circle cx="550.10" cy="589.40" r="2.2"/><circle cx="547.82" cy="594.28" r="2.2"/><circle cx="545.54" cy="599.16" r="2.2"/><circle cx="543.26" cy="604.04" r="2.2"/><circle cx="557.26" cy="586.10" r="2.2"/><circle cx="554.98" cy="590.98" r="2.2"/><circle cx="552.70" cy="595.86" r="2.2"/><circle cx="550.42" cy="600.74" r="2.2"/><circle cx="557.58" cy="597.44" r="2.2"/><circle cx="555.30" cy="602.32" r="2.2"/></g>
<polygon points="518.85,464.80 557.90,479.90 557.00,601.00 519.40,590.60" fill="url(#grilleShade)"/>
<path d="M526,469 L526,458 Q526.5,455 529.5,455.5 L557.5,463 Q561,464 561,467 L561,479" stroke="#6e7075" stroke-width="3.4" fill="none" stroke-linecap="round"/>
<path d="M526,469 L526,458 Q526.5,455 529.5,455.5 L557.5,463 Q561,464 561,467 L561,479" stroke="#26272b" stroke-width="1.3" fill="none" stroke-linecap="round" transform="translate(-0.5 -1.0)"/>
<path d="M526,469 L526,458 Q526.5,455 529.5,455.5 L557.5,463 Q561,464 561,467 L561,479" stroke="#e4e6ea" stroke-width="1.5" fill="none" stroke-linecap="round" transform="translate(0.5 0.7)"/>
<path d="M609.7,453.7 L609.7,431 Q610,427.5 613,427.5 L640.5,434.5 Q644,435.5 644,439 L644,453.2" stroke="#6e7075" stroke-width="3.4" fill="none" stroke-linecap="round"/>
<path d="M609.7,453.7 L609.7,431 Q610,427.5 613,427.5 L640.5,434.5 Q644,435.5 644,439 L644,453.2" stroke="#26272b" stroke-width="1.3" fill="none" stroke-linecap="round" transform="translate(-0.5 -1.0)"/>
<path d="M609.7,453.7 L609.7,431 Q610,427.5 613,427.5 L640.5,434.5 Q644,435.5 644,439 L644,453.2" stroke="#e4e6ea" stroke-width="1.5" fill="none" stroke-linecap="round" transform="translate(0.5 0.7)"/></g>
<g transform="translate(155.75 40.5)"><polygon points="527.40,592.60 562.00,613.00 691.60,592.00 661.60,544.00 577.00,571.00" fill="#a4a8b0" opacity="0.38" filter="url(#blur12)"/>
<ellipse cx="526" cy="601.8" rx="6.5" ry="1.7" fill="#d2d4d8" stroke="#8d9096" stroke-width="0.5"/>
<rect x="524.7" y="591" width="2.6" height="10" fill="#a7a9ae"/>
<rect x="524.7" y="591" width="0.8" height="10" fill="#55575c"/>
<ellipse cx="561" cy="612.3" rx="7.5" ry="1.7" fill="#d2d4d8" stroke="#8d9096" stroke-width="0.5"/>
<rect x="559.7" y="601" width="2.6" height="10.5" fill="#a7a9ae"/>
<rect x="559.7" y="601" width="0.8" height="10.5" fill="#55575c"/>
<ellipse cx="644.3" cy="586.8" rx="5" ry="1.7" fill="#d2d4d8" stroke="#8d9096" stroke-width="0.5"/>
<rect x="643.0" y="576" width="2.6" height="10" fill="#a7a9ae"/>
<rect x="643.0" y="576" width="0.8" height="10" fill="#55575c"/>
<polygon points="557.90,479.90 651.90,451.10 651.60,574.00 557.00,601.00" fill="#d5d6db"/>
<line x1="651.9" y1="451.1" x2="651.6" y2="574" stroke="#a2a4a9" stroke-width="1"/>
<polygon points="518.85,464.80 612.85,436.00 651.90,451.10 557.90,479.90" fill="#d9dade"/>
<path d="M579.5,458.5 Q586,453.5 594.5,456.5 L595,459.5 Q587,458 579.5,458.5 z" fill="#34353a"/>
<polygon points="518.85,464.80 557.90,479.90 557.00,601.00 519.40,590.60" fill="#dfe0e3"/>
<path d="M521.8,473.5 h-1.6 v3 h1.6" stroke="#55575c" stroke-width="0.7" fill="none"/><path d="M521.8,484.0 h-1.6 v3 h1.6" stroke="#55575c" stroke-width="0.7" fill="none"/><path d="M521.8,495.2 h-1.6 v3 h1.6" stroke="#55575c" stroke-width="0.7" fill="none"/><path d="M521.8,506.3 h-1.6 v3 h1.6" stroke="#55575c" stroke-width="0.7" fill="none"/><path d="M521.8,517.3 h-1.6 v3 h1.6" stroke="#55575c" stroke-width="0.7" fill="none"/><path d="M521.8,528.4 h-1.6 v3 h1.6" stroke="#55575c" stroke-width="0.7" fill="none"/><path d="M521.8,539.5 h-1.6 v3 h1.6" stroke="#55575c" stroke-width="0.7" fill="none"/><path d="M521.8,550.6 h-1.6 v3 h1.6" stroke="#55575c" stroke-width="0.7" fill="none"/><path d="M521.8,561.7 h-1.6 v3 h1.6" stroke="#55575c" stroke-width="0.7" fill="none"/><path d="M521.8,572.8 h-1.6 v3 h1.6" stroke="#55575c" stroke-width="0.7" fill="none"/><path d="M521.8,583.9 h-1.6 v3 h1.6" stroke="#55575c" stroke-width="0.7" fill="none"/>
<g clip-path="url(#gclip)" fill="#131417"><circle cx="524.78" cy="463.22" r="2.2"/><circle cx="522.50" cy="468.10" r="2.2"/><circle cx="520.22" cy="472.98" r="2.2"/><circle cx="529.66" cy="464.80" r="2.2"/><circle cx="527.38" cy="469.68" r="2.2"/><circle cx="525.10" cy="474.56" r="2.2"/><circle cx="522.82" cy="479.44" r="2.2"/><circle cx="520.54" cy="484.32" r="2.2"/><circle cx="518.26" cy="489.20" r="2.2"/><circle cx="534.54" cy="466.38" r="2.2"/><circle cx="532.26" cy="471.26" r="2.2"/><circle cx="529.98" cy="476.14" r="2.2"/><circle cx="527.70" cy="481.02" r="2.2"/><circle cx="525.42" cy="485.90" r="2.2"/><circle cx="523.14" cy="490.78" r="2.2"/><circle cx="520.86" cy="495.66" r="2.2"/><circle cx="518.58" cy="500.54" r="2.2"/><circle cx="539.42" cy="467.96" r="2.2"/><circle cx="537.14" cy="472.84" r="2.2"/><circle cx="534.86" cy="477.72" r="2.2"/><circle cx="532.58" cy="482.60" r="2.2"/><circle cx="530.30" cy="487.48" r="2.2"/><circle cx="528.02" cy="492.36" r="2.2"/><circle cx="525.74" cy="497.24" r="2.2"/><circle cx="523.46" cy="502.12" r="2.2"/><circle cx="521.18" cy="507.00" r="2.2"/><circle cx="518.90" cy="511.88" r="2.2"/><circle cx="544.30" cy="469.54" r="2.2"/><circle cx="542.02" cy="474.42" r="2.2"/><circle cx="539.74" cy="479.30" r="2.2"/><circle cx="537.46" cy="484.18" r="2.2"/><circle cx="535.18" cy="489.06" r="2.2"/><circle cx="532.90" cy="493.94" r="2.2"/><circle cx="530.62" cy="498.82" r="2.2"/><circle cx="528.34" cy="503.70" r="2.2"/><circle cx="526.06" cy="508.58" r="2.2"/><circle cx="523.78" cy="513.46" r="2.2"/><circle cx="521.50" cy="518.34" r="2.2"/><circle cx="519.22" cy="523.22" r="2.2"/><circle cx="549.18" cy="471.12" r="2.2"/><circle cx="546.90" cy="476.00" r="2.2"/><circle cx="544.62" cy="480.88" r="2.2"/><circle cx="542.34" cy="485.76" r="2.2"/><circle cx="540.06" cy="490.64" r="2.2"/><circle cx="537.78" cy="495.52" r="2.2"/><circle cx="535.50" cy="500.40" r="2.2"/><circle cx="533.22" cy="505.28" r="2.2"/><circle cx="530.94" cy="510.16" r="2.2"/><circle cx="528.66" cy="515.04" r="2.2"/><circle cx="526.38" cy="519.92" r="2.2"/><circle cx="524.10" cy="524.80" r="2.2"/><circle cx="521.82" cy="529.68" r="2.2"/><circle cx="519.54" cy="534.56" r="2.2"/><circle cx="554.06" cy="472.70" r="2.2"/><circle cx="551.78" cy="477.58" r="2.2"/><circle cx="549.50" cy="482.46" r="2.2"/><circle cx="547.22" cy="487.34" r="2.2"/><circle cx="544.94" cy="492.22" r="2.2"/><circle cx="542.66" cy="497.10" r="2.2"/><circle cx="540.38" cy="501.98" r="2.2"/><circle cx="538.10" cy="506.86" r="2.2"/><circle cx="535.82" cy="511.74" r="2.2"/><circle cx="533.54" cy="516.62" r="2.2"/><circle cx="531.26" cy="521.50" r="2.2"/><circle cx="528.98" cy="526.38" r="2.2"/><circle cx="526.70" cy="531.26" r="2.2"/><circle cx="524.42" cy="536.14" r="2.2"/><circle cx="522.14" cy="541.02" r="2.2"/><circle cx="519.86" cy="545.90" r="2.2"/><circle cx="558.94" cy="474.28" r="2.2"/><circle cx="556.66" cy="479.16" r="2.2"/><circle cx="554.38" cy="484.04" r="2.2"/><circle cx="552.10" cy="488.92" r="2.2"/><circle cx="549.82" cy="493.80" r="2.2"/><circle cx="547.54" cy="498.68" r="2.2"/><circle cx="545.26" cy="503.56" r="2.2"/><circle cx="542.98" cy="508.44" r="2.2"/><circle cx="540.70" cy="513.32" r="2.2"/><circle cx="538.42" cy="518.20" r="2.2"/><circle cx="536.14" cy="523.08" r="2.2"/><circle cx="533.86" cy="527.96" r="2.2"/><circle cx="531.58" cy="532.84" r="2.2"/><circle cx="529.30" cy="537.72" r="2.2"/><circle cx="527.02" cy="542.60" r="2.2"/><circle cx="524.74" cy="547.48" r="2.2"/><circle cx="522.46" cy="552.36" r="2.2"/><circle cx="520.18" cy="557.24" r="2.2"/><circle cx="556.98" cy="490.50" r="2.2"/><circle cx="554.70" cy="495.38" r="2.2"/><circle cx="552.42" cy="500.26" r="2.2"/><circle cx="550.14" cy="505.14" r="2.2"/><circle cx="547.86" cy="510.02" r="2.2"/><circle cx="545.58" cy="514.90" r="2.2"/><circle cx="543.30" cy="519.78" r="2.2"/><circle cx="541.02" cy="524.66" r="2.2"/><circle cx="538.74" cy="529.54" r="2.2"/><circle cx="536.46" cy="534.42" r="2.2"/><circle cx="534.18" cy="539.30" r="2.2"/><circle cx="531.90" cy="544.18" r="2.2"/><circle cx="529.62" cy="549.06" r="2.2"/><circle cx="527.34" cy="553.94" r="2.2"/><circle cx="525.06" cy="558.82" r="2.2"/><circle cx="522.78" cy="563.70" r="2.2"/><circle cx="520.50" cy="568.58" r="2.2"/><circle cx="518.22" cy="573.46" r="2.2"/><circle cx="557.30" cy="501.84" r="2.2"/><circle cx="555.02" cy="506.72" r="2.2"/><circle cx="552.74" cy="511.60" r="2.2"/><circle cx="550.46" cy="516.48" r="2.2"/><circle cx="548.18" cy="521.36" r="2.2"/><circle cx="545.90" cy="526.24" r="2.2"/><circle cx="543.62" cy="531.12" r="2.2"/><circle cx="541.34" cy="536.00" r="2.2"/><circle cx="539.06" cy="540.88" r="2.2"/><circle cx="536.78" cy="545.76" r="2.2"/><circle cx="534.50" cy="550.64" r="2.2"/><circle cx="532.22" cy="555.52" r="2.2"/><circle cx="529.94" cy="560.40" r="2.2"/><circle cx="527.66" cy="565.28" r="2.2"/><circle cx="525.38" cy="570.16" r="2.2"/><circle cx="523.10" cy="575.04" r="2.2"/><circle cx="520.82" cy="579.92" r="2.2"/><circle cx="518.54" cy="584.80" r="2.2"/><circle cx="557.62" cy="513.18" r="2.2"/><circle cx="555.34" cy="518.06" r="2.2"/><circle cx="553.06" cy="522.94" r="2.2"/><circle cx="550.78" cy="527.82" r="2.2"/><circle cx="548.50" cy="532.70" r="2.2"/><circle cx="546.22" cy="537.58" r="2.2"/><circle cx="543.94" cy="542.46" r="2.2"/><circle cx="541.66" cy="547.34" r="2.2"/><circle cx="539.38" cy="552.22" r="2.2"/><circle cx="537.10" cy="557.10" r="2.2"/><circle cx="534.82" cy="561.98" r="2.2"/><circle cx="532.54" cy="566.86" r="2.2"/><circle cx="530.26" cy="571.74" r="2.2"/><circle cx="527.98" cy="576.62" r="2.2"/><circle cx="525.70" cy="581.50" r="2.2"/><circle cx="523.42" cy="586.38" r="2.2"/><circle cx="521.14" cy="591.26" r="2.2"/><circle cx="518.86" cy="596.14" r="2.2"/><circle cx="557.94" cy="524.52" r="2.2"/><circle cx="555.66" cy="529.40" r="2.2"/><circle cx="553.38" cy="534.28" r="2.2"/><circle cx="551.10" cy="539.16" r="2.2"/><circle cx="548.82" cy="544.04" r="2.2"/><circle cx="546.54" cy="548.92" r="2.2"/><circle cx="544.26" cy="553.80" r="2.2"/><circle cx="541.98" cy="558.68" r="2.2"/><circle cx="539.70" cy="563.56" r="2.2"/><circle cx="537.42" cy="568.44" r="2.2"/><circle cx="535.14" cy="573.32" r="2.2"/><circle cx="532.86" cy="578.20" r="2.2"/><circle cx="530.58" cy="583.08" r="2.2"/><circle cx="528.30" cy="587.96" r="2.2"/><circle cx="526.02" cy="592.84" r="2.2"/><circle cx="523.74" cy="597.72" r="2.2"/><circle cx="521.46" cy="602.60" r="2.2"/><circle cx="558.26" cy="535.86" r="2.2"/><circle cx="555.98" cy="540.74" r="2.2"/><circle cx="553.70" cy="545.62" r="2.2"/><circle cx="551.42" cy="550.50" r="2.2"/><circle cx="549.14" cy="555.38" r="2.2"/><circle cx="546.86" cy="560.26" r="2.2"/><circle cx="544.58" cy="565.14" r="2.2"/><circle cx="542.30" cy="570.02" r="2.2"/><circle cx="540.02" cy="574.90" r="2.2"/><circle cx="537.74" cy="579.78" r="2.2"/><circle cx="535.46" cy="584.66" r="2.2"/><circle cx="533.18" cy="589.54" r="2.2"/><circle cx="530.90" cy="594.42" r="2.2"/><circle cx="528.62" cy="599.30" r="2.2"/><circle cx="526.34" cy="604.18" r="2.2"/><circle cx="558.58" cy="547.20" r="2.2"/><circle cx="556.30" cy="552.08" r="2.2"/><circle cx="554.02" cy="556.96" r="2.2"/><circle cx="551.74" cy="561.84" r="2.2"/><circle cx="549.46" cy="566.72" r="2.2"/><circle cx="547.18" cy="571.60" r="2.2"/><circle cx="544.90" cy="576.48" r="2.2"/><circle cx="542.62" cy="581.36" r="2.2"/><circle cx="540.34" cy="586.24" r="2.2"/><circle cx="538.06" cy="591.12" r="2.2"/><circle cx="535.78" cy="596.00" r="2.2"/><circle cx="533.50" cy="600.88" r="2.2"/><circle cx="558.90" cy="558.54" r="2.2"/><circle cx="556.62" cy="563.42" r="2.2"/><circle cx="554.34" cy="568.30" r="2.2"/><circle cx="552.06" cy="573.18" r="2.2"/><circle cx="549.78" cy="578.06" r="2.2"/><circle cx="547.50" cy="582.94" r="2.2"/><circle cx="545.22" cy="587.82" r="2.2"/><circle cx="542.94" cy="592.70" r="2.2"/><circle cx="540.66" cy="597.58" r="2.2"/><circle cx="538.38" cy="602.46" r="2.2"/><circle cx="556.94" cy="574.76" r="2.2"/><circle cx="554.66" cy="579.64" r="2.2"/><circle cx="552.38" cy="584.52" r="2.2"/><circle cx="550.10" cy="589.40" r="2.2"/><circle cx="547.82" cy="594.28" r="2.2"/><circle cx="545.54" cy="599.16" r="2.2"/><circle cx="543.26" cy="604.04" r="2.2"/><circle cx="557.26" cy="586.10" r="2.2"/><circle cx="554.98" cy="590.98" r="2.2"/><circle cx="552.70" cy="595.86" r="2.2"/><circle cx="550.42" cy="600.74" r="2.2"/><circle cx="557.58" cy="597.44" r="2.2"/><circle cx="555.30" cy="602.32" r="2.2"/></g>
<polygon points="518.85,464.80 557.90,479.90 557.00,601.00 519.40,590.60" fill="url(#grilleShade)"/>
<path d="M526,469 L526,458 Q526.5,455 529.5,455.5 L557.5,463 Q561,464 561,467 L561,479" stroke="#6e7075" stroke-width="3.4" fill="none" stroke-linecap="round"/>
<path d="M526,469 L526,458 Q526.5,455 529.5,455.5 L557.5,463 Q561,464 561,467 L561,479" stroke="#26272b" stroke-width="1.3" fill="none" stroke-linecap="round" transform="translate(-0.5 -1.0)"/>
<path d="M526,469 L526,458 Q526.5,455 529.5,455.5 L557.5,463 Q561,464 561,467 L561,479" stroke="#e4e6ea" stroke-width="1.5" fill="none" stroke-linecap="round" transform="translate(0.5 0.7)"/>
<path d="M609.7,453.7 L609.7,431 Q610,427.5 613,427.5 L640.5,434.5 Q644,435.5 644,439 L644,453.2" stroke="#6e7075" stroke-width="3.4" fill="none" stroke-linecap="round"/>
<path d="M609.7,453.7 L609.7,431 Q610,427.5 613,427.5 L640.5,434.5 Q644,435.5 644,439 L644,453.2" stroke="#26272b" stroke-width="1.3" fill="none" stroke-linecap="round" transform="translate(-0.5 -1.0)"/>
<path d="M609.7,453.7 L609.7,431 Q610,427.5 613,427.5 L640.5,434.5 Q644,435.5 644,439 L644,453.2" stroke="#e4e6ea" stroke-width="1.5" fill="none" stroke-linecap="round" transform="translate(0.5 0.7)"/></g>
</svg>

<div class="lbl grey" style="left:47.5px;top:262px;width:122.4px;height:25.6px;letter-spacing:-0.08px;">Cloud Gateway</div>
<div class="lbl grey" style="left:615.6px;top:149.2px;width:174.8px;height:26px;letter-spacing:0.18px;">Enterprise Aggregation</div>
<div class="lbl grey" style="left:833.7px;top:257.4px;width:157.7px;height:26.9px;letter-spacing:0.44px;">Professional Switch</div>
<div class="lbl blue" style="left:59.5px;top:536.2px;width:102.2px;height:26.9px;letter-spacing:0.52px;">UNAS Pro 8</div>

</div></body></html>
